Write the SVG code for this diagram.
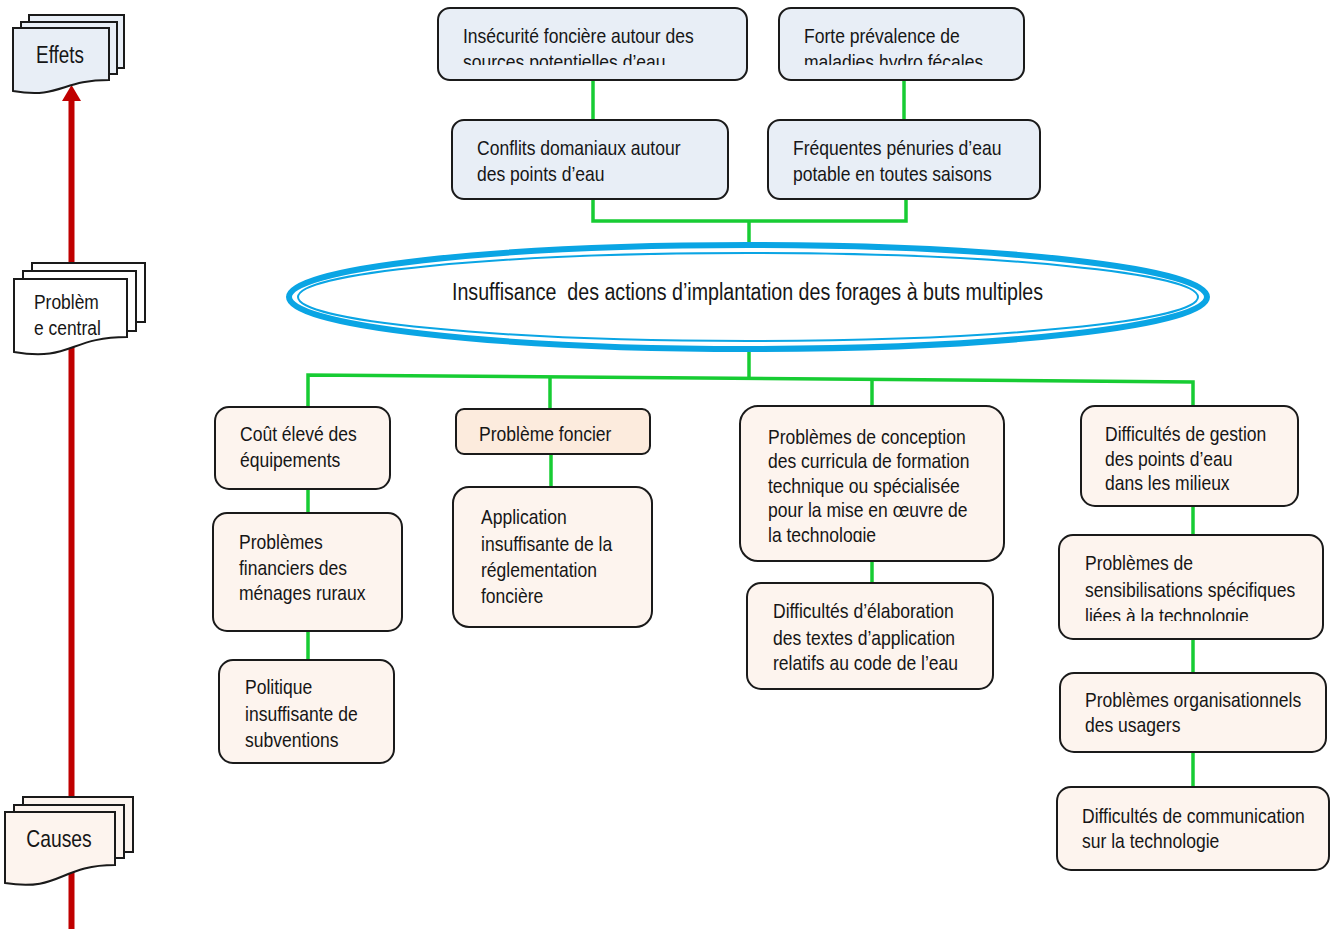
<svg xmlns="http://www.w3.org/2000/svg" width="1333" height="929" viewBox="0 0 1333 929">
  <style>
    text { font-family: "Liberation Sans Narrow", "Arial Narrow", "Liberation Sans", Arial, sans-serif; font-size: 21px; fill: #161616; }
    .effect { fill: #e8eef6; stroke: #1a1a1a; stroke-width: 2; }
    .cause { fill: #fdf4ee; stroke: #1a1a1a; stroke-width: 2; }
    .cause2 { fill: #fcebdd; stroke: #1a1a1a; stroke-width: 2; }
    .plain { fill: #ffffff; stroke: #1a1a1a; stroke-width: 2; }
    .link { fill: none; stroke: #17cc33; stroke-width: 3.5; }
    .axis { stroke: #c00000; stroke-width: 6; }
    .title { font-size: 23px; }
    .legend { font-size: 23px; }
  </style>
  <defs>
    <clipPath id="clipA"><rect x="438" y="8" width="309" height="57"/></clipPath>
    <clipPath id="clipB"><rect x="779" y="8" width="245" height="57"/></clipPath>
    <clipPath id="clipG1"><rect x="740" y="406" width="264" height="136"/></clipPath>
    <clipPath id="clipH2"><rect x="1059" y="535" width="264" height="86"/></clipPath>
  </defs>
  <rect width="1333" height="929" fill="#ffffff"/>

  <!-- Cause-to-effect axis -->
  <g id="axis">
    <line class="axis" x1="71.5" y1="99" x2="71.5" y2="929"/>
    <polygon points="71.5,85 62,101 81,101" fill="#c00000"/>
  </g>

  <!-- Legend stacks (condensed labels: matrix scales x about the anchor) -->
  <g id="legend-effets">
    <rect class="effect" x="29" y="15" width="95" height="53"/>
    <rect class="effect" x="21" y="22" width="96" height="52"/>
    <path class="effect" d="M13,28 H109 V80 C61,80 61,99 13,91 Z"/>
    <text class="legend" x="60" y="63" text-anchor="middle" transform="matrix(0.82 0 0 1 10.8 0)">Effets</text>
  </g>
  <g id="legend-probleme">
    <rect class="plain" x="32" y="263" width="113" height="59"/>
    <rect class="plain" x="23" y="271" width="113" height="60"/>
    <path class="plain" d="M14,279 H127 V337 C70,337 70,362 14,352 Z"/>
    <text transform="matrix(0.83 0 0 1 5.78 0)"><tspan x="34" y="309">Problèm</tspan><tspan x="34" y="335">e central</tspan></text>
  </g>
  <g id="legend-causes">
    <rect class="cause" x="23" y="797" width="110" height="55"/>
    <rect class="cause" x="14" y="805" width="110" height="53"/>
    <path class="cause" d="M5,812 H115 V865 C60,865 60,892 5,883 Z"/>
    <text class="legend" x="59" y="847" text-anchor="middle" transform="matrix(0.84 0 0 1 9.44 0)">Causes</text>
  </g>

  <!-- Connectors -->
  <g id="connectors">
    <line class="link" x1="593" y1="80" x2="593" y2="120"/>
    <line class="link" x1="904" y1="80" x2="904" y2="120"/>
    <polyline class="link" points="593,199 593,221 906,221 906,199"/>
    <line class="link" x1="749" y1="221" x2="749" y2="243"/>
    <line class="link" x1="749" y1="350" x2="749" y2="379"/>
    <polyline class="link" points="308,407 308,375 1193,382 1193,406"/>
    <line class="link" x1="550" y1="377" x2="550" y2="409"/>
    <line class="link" x1="872" y1="380" x2="872" y2="406"/>
    <line class="link" x1="308" y1="489" x2="308" y2="513"/>
    <line class="link" x1="308" y1="631" x2="308" y2="660"/>
    <line class="link" x1="551" y1="454" x2="551" y2="487"/>
    <line class="link" x1="872" y1="561" x2="872" y2="583"/>
    <line class="link" x1="1193" y1="506" x2="1193" y2="535"/>
    <line class="link" x1="1193" y1="639" x2="1193" y2="673"/>
    <line class="link" x1="1193" y1="752" x2="1193" y2="787"/>
  </g>

  <!-- Effects -->
  <g id="effet-insecurite">
    <rect class="effect" x="438" y="8" width="309" height="72" rx="12"/>
    <g clip-path="url(#clipA)">
      <text transform="matrix(0.835 0 0 1 76.395 0)"><tspan x="463" y="43">Insécurité foncière autour des</tspan><tspan x="463" y="69">sources potentielles d’eau</tspan></text>
    </g>
  </g>
  <g id="effet-maladies">
    <rect class="effect" x="779" y="8" width="245" height="72" rx="12"/>
    <g clip-path="url(#clipB)">
      <text transform="matrix(0.835 0 0 1 132.66 0)"><tspan x="804" y="43">Forte prévalence de</tspan><tspan x="804" y="69">maladies hydro fécales</tspan></text>
    </g>
  </g>
  <g id="effet-conflits">
    <rect class="effect" x="452" y="120" width="276" height="79" rx="12"/>
    <text transform="matrix(0.835 0 0 1 78.705 0)"><tspan x="477" y="155">Conflits domaniaux autour</tspan><tspan x="477" y="181">des points d’eau</tspan></text>
  </g>
  <g id="effet-penuries">
    <rect class="effect" x="768" y="120" width="272" height="79" rx="12"/>
    <text transform="matrix(0.835 0 0 1 130.845 0)"><tspan x="793" y="155">Fréquentes pénuries d’eau</tspan><tspan x="793" y="181">potable en toutes saisons</tspan></text>
  </g>

  <!-- Central problem -->
  <g id="probleme-central">
    <ellipse cx="748" cy="297" rx="459" ry="52" fill="#ffffff" stroke="#0aa5e4" stroke-width="6"/>
    <ellipse cx="748" cy="297" rx="450" ry="44" fill="none" stroke="#0aa5e4" stroke-width="2"/>
    <text class="title" x="452" y="300" textLength="591" lengthAdjust="spacingAndGlyphs">Insuffisance&#160; des actions d’implantation des forages à buts multiples</text>
  </g>

  <!-- Causes -->
  <g id="cause-cout">
    <rect class="cause" x="215" y="407" width="175" height="82" rx="14"/>
    <text transform="matrix(0.835 0 0 1 39.6 0)"><tspan x="240" y="441">Coût élevé des</tspan><tspan x="240" y="467">équipements</tspan></text>
  </g>
  <g id="cause-financiers">
    <rect class="cause" x="213" y="513" width="189" height="118" rx="14"/>
    <text transform="matrix(0.835 0 0 1 39.435 0)"><tspan x="239" y="549">Problèmes</tspan><tspan x="239" y="575">financiers des</tspan><tspan x="239" y="600">ménages ruraux</tspan></text>
  </g>
  <g id="cause-subventions">
    <rect class="cause" x="219" y="660" width="175" height="103" rx="14"/>
    <text transform="matrix(0.835 0 0 1 40.425 0)"><tspan x="245" y="694">Politique</tspan><tspan x="245" y="721">insuffisante de</tspan><tspan x="245" y="747">subventions</tspan></text>
  </g>
  <g id="cause-foncier">
    <rect class="cause2" x="456" y="409" width="194" height="45" rx="8"/>
    <text x="479" y="441" transform="matrix(0.835 0 0 1 79.035 0)">Problème foncier</text>
  </g>
  <g id="cause-reglementation">
    <rect class="cause" x="453" y="487" width="199" height="140" rx="16"/>
    <text transform="matrix(0.835 0 0 1 79.365 0)"><tspan x="481" y="524">Application</tspan><tspan x="481" y="551">insuffisante de la</tspan><tspan x="481" y="577">réglementation</tspan><tspan x="481" y="603">foncière</tspan></text>
  </g>
  <g id="cause-curricula">
    <rect class="cause" x="740" y="406" width="264" height="155" rx="18"/>
    <g clip-path="url(#clipG1)">
      <text transform="matrix(0.835 0 0 1 126.72 0)"><tspan x="768" y="444">Problèmes de conception</tspan><tspan x="768" y="468">des curricula de formation</tspan><tspan x="768" y="493">technique ou spécialisée</tspan><tspan x="768" y="517">pour la mise en œuvre de</tspan><tspan x="768" y="542">la technologie</tspan></text>
    </g>
  </g>
  <g id="cause-textes">
    <rect class="cause" x="747" y="583" width="246" height="106" rx="14"/>
    <text transform="matrix(0.835 0 0 1 127.545 0)"><tspan x="773" y="618">Difficultés d’élaboration</tspan><tspan x="773" y="645">des textes d’application</tspan><tspan x="773" y="670">relatifs au code de l’eau</tspan></text>
  </g>
  <g id="cause-gestion">
    <rect class="cause" x="1081" y="406" width="217" height="100" rx="14"/>
    <text transform="matrix(0.835 0 0 1 182.325 0)"><tspan x="1105" y="441">Difficultés de gestion</tspan><tspan x="1105" y="466">des points d’eau</tspan><tspan x="1105" y="490">dans les milieux</tspan></text>
  </g>
  <g id="cause-sensibilisation">
    <rect class="cause" x="1059" y="535" width="264" height="104" rx="14"/>
    <g clip-path="url(#clipH2)">
      <text transform="matrix(0.835 0 0 1 179.025 0)"><tspan x="1085" y="570">Problèmes de</tspan><tspan x="1085" y="597">sensibilisations spécifiques</tspan><tspan x="1085" y="623">liées à la technologie</tspan></text>
    </g>
  </g>
  <g id="cause-organisation">
    <rect class="cause" x="1060" y="673" width="266" height="79" rx="14"/>
    <text transform="matrix(0.835 0 0 1 179.025 0)"><tspan x="1085" y="707">Problèmes organisationnels</tspan><tspan x="1085" y="732">des usagers</tspan></text>
  </g>
  <g id="cause-communication">
    <rect class="cause" x="1057" y="787" width="272" height="83" rx="14"/>
    <text transform="matrix(0.835 0 0 1 178.53 0)"><tspan x="1082" y="823">Difficultés de communication</tspan><tspan x="1082" y="848">sur la technologie</tspan></text>
  </g>
</svg>
